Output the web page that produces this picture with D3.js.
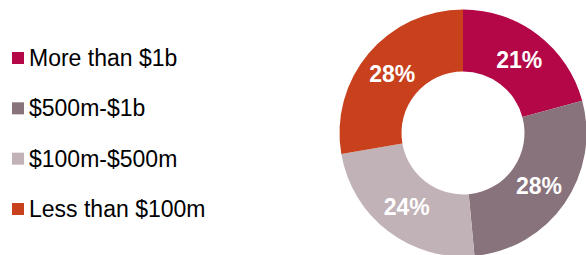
<!DOCTYPE html>
<html lang="en">
<head>
    <meta charset="UTF-8">
    <title>Donut chart</title>
    <style>
        body { margin: 0; background: #fff; overflow: hidden; }
        svg { display: block; }
    </style>
</head>
<body>
    <script src="https://d3js.org/d3.v7.min.js"></script>
    <script>
        // chart data
        const categories = ['More than $1b', '$500m-$1b', '$100m-$500m', 'Less than $100m'];
        const shares = [21, 28, 24, 28];
        const colors = ['#b30748', '#88727b', '#c0b2b7', '#c8401c'];

        const width = 586;
        const height = 255;

        const svg = d3.select('body').append('svg')
            .attr('width', width)
            .attr('height', height);

        const color = d3.scaleOrdinal().domain(categories).range(colors);

        // donut
        const cx = 463, cy = 133;
        const outerR = 123.5, innerR = 61.5;

        const pie = d3.pie().sort(null).value(d => d.value);
        const arc = d3.arc().innerRadius(innerR).outerRadius(outerR);
        const data = categories.map((c, i) => ({ name: c, value: shares[i] }));

        const g = svg.append('g').attr('transform', `translate(${cx},${cy})`);

        g.selectAll('path')
            .data(pie(data))
            .enter().append('path')
            .attr('d', arc)
            .attr('fill', d => color(d.data.name));

        g.selectAll('text')
            .data(pie(data))
            .enter().append('text')
            .attr('transform', d => `translate(${arc.centroid(d)})`)
            .attr('text-anchor', 'middle')
            .attr('dy', '0.36em')
            .style('font-family', 'Liberation Sans, Arial, sans-serif')
            .style('font-weight', 'bold')
            .style('font-size', '23px')
            .attr('fill', '#fff')
            .text(d => d.data.value + '%');

        // legend
        const legendY = d3.scalePoint().domain(categories).range([58, 209]);

        const item = svg.selectAll('.legend')
            .data(categories)
            .enter().append('g')
            .attr('class', 'legend')
            .attr('transform', d => `translate(12,${legendY(d)})`);

        item.append('rect')
            .attr('x', 0)
            .attr('y', -6)
            .attr('width', 12)
            .attr('height', 12)
            .attr('fill', d => color(d));

        item.append('text')
            .attr('x', 17)
            .attr('y', 0)
            .attr('dy', '0.35em')
            .style('font-family', 'Liberation Sans, Arial, sans-serif')
            .style('font-size', '23px')
            .attr('fill', '#000')
            .text(d => d);
    </script>
</body>
</html>
